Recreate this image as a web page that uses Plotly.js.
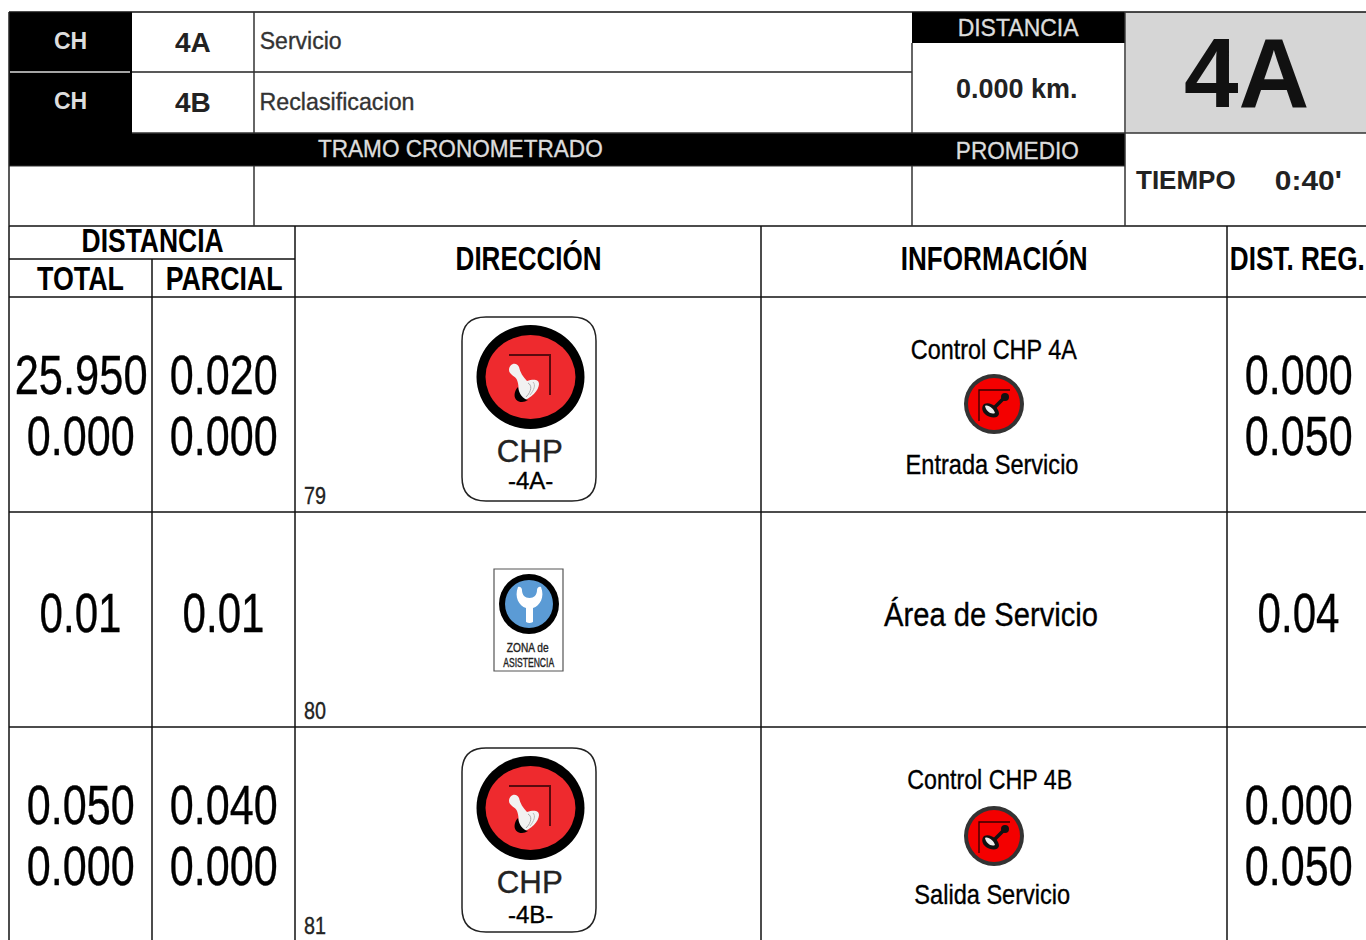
<!DOCTYPE html>
<html><head><meta charset="utf-8">
<script src="https://cdn.plot.ly/plotly-3.0.1.min.js"></script>
<style>html,body{margin:0;padding:0;background:#fff;overflow:hidden}#c{width:1366px;height:940px}</style>
</head><body><div id="c"></div>
<script>
var headerCodes = ["4A","4B"];
var headerNames = ["Servicio","Reclasificacion"];
var totalsRow1 = ["25.950","0.000"];
var parcialRow1 = ["0.020","0.000"];
var regRow1 = ["0.000","0.050"];
var totalsRow2 = ["0.01"];
var parcialRow2 = ["0.01"];
var regRow2 = ["0.04"];
var totalsRow3 = ["0.050","0.000"];
var parcialRow3 = ["0.040","0.000"];
var regRow3 = ["0.000","0.050"];
var rowNumbers = ["79","80","81"];
var timeLabel = "0:40\x27";

var SANS = "Liberation Sans, Arial, sans-serif";
var shapeList = [], noteList = [], fitWidths = [];
function rect(x0,y0,x1,y1,fill,lc,lw){
  shapeList.push({type:"rect",xref:"x",yref:"y",x0:x0,y0:y0,x1:x1,y1:y1,fillcolor:fill||"rgba(0,0,0,0)",line:{color:lc||"rgba(0,0,0,0)",width:lw||0}});
}
function seg(x0,y0,x1,y1,c,w){
  shapeList.push({type:"line",xref:"x",yref:"y",x0:x0,y0:y0,x1:x1,y1:y1,line:{color:c||"#111",width:w||1.5}});
}
function oval(cx,cy,rx,ry,fill){
  shapeList.push({type:"circle",xref:"x",yref:"y",x0:cx-rx,x1:cx+rx,y0:cy-ry,y1:cy+ry,fillcolor:fill,line:{width:0}});
}
function pth(d,fill,lc,lw){
  shapeList.push({type:"path",xref:"x",yref:"y",path:d,fillcolor:fill||"rgba(0,0,0,0)",line:{color:lc||"rgba(0,0,0,0)",width:lw||0}});
}
// w = target width in px: the real text is condensed to it after drawing
function txt(x,y,text,size,opt){
  opt = opt || {};
  fitWidths.push({w:opt.w||0,bold:!!opt.bold,color:opt.color||"#000"});
  noteList.push({xref:"x",yref:"y",x:x,y:y,text:text,showarrow:false,xanchor:"center",yanchor:"middle",align:"center",
    font:{family:SANS,size:size,color:opt.color||"#000",weight:opt.bold?700:400}});
}
function tp(d,cx,cy){
  return d.replace(/(-?[\d.]+),(-?[\d.]+)/g,function(m,a,c){return (cx+Number(a)).toFixed(1)+","+(cy+Number(c)).toFixed(1);});
}

rect(9,12,132,133,"#000");
rect(9,133,1125,166,"#000");
rect(912,12,1125,43,"#000");
rect(1126,12,1366,133,"#d6d6d6");
seg(10,72,130,72,"#ddd",1.5);
seg(9,12,1366,12,"#111",1.5);
seg(132,72,912,72,"#222",1.5);
seg(132,133,1366,133,"#333",1.5);
seg(9,166,1125,166,"#333",1);
seg(9,226,1366,226,"#111",1.5);
seg(9,12,9,226,"#222",1.5);
seg(254,12,254,133,"#333",1.5);
seg(254,166,254,226,"#333",1.5);
seg(912,43,912,133,"#333",1.5);
seg(912,166,912,226,"#333",1.5);
seg(1125,12,1125,226,"#333",1.5);

seg(9,226,9,940,"#111",1.5);
seg(295,226,295,940,"#111",1.5);
seg(152,259,152,940,"#111",1.5);
seg(761,226,761,940,"#111",1.5);
seg(1227,226,1227,940,"#111",1.5);
seg(9,259,295,259,"#111",1.5);
seg(9,297,1366,297,"#111",1.5);
seg(9,512,1366,512,"#111",1.5);
seg(9,727,1366,727,"#111",1.5);

txt(70,41,"CH",23,{color:"#ddd",bold:1});
txt(70,101,"CH",23,{color:"#ddd",bold:1});
txt(193,42.5,headerCodes[0],28,{color:"#222",bold:1});
txt(193,102.5,headerCodes[1],28,{color:"#222",bold:1});
txt(300,40.5,headerNames[0],24,{w:82,color:"#333"});
txt(336.5,101.5,headerNames[1],24,{w:155,color:"#333"});
txt(460,148.5,"TRAMO CRONOMETRADO",24,{w:285,color:"#ddd"});
txt(1018,27.5,"DISTANCIA",24,{w:121,color:"#ddd"});
txt(1017,150.5,"PROMEDIO",24,{w:123,color:"#ddd"});
txt(1017,88.5,"0.000 km.",27,{color:"#222",bold:1});
txt(1246.5,73,"4A",98,{color:"#111",bold:1});
txt(1186,180,"TIEMPO",26,{color:"#222",bold:1});
txt(1308.5,180.5,timeLabel,28,{w:67,color:"#222",bold:1});
txt(152,240,"DISTANCIA",33,{w:142,bold:1});
txt(80.5,278,"TOTAL",33,{w:87,bold:1});
txt(223.5,278,"PARCIAL",33,{w:117,bold:1});
txt(528,258,"DIRECCIÓN",33,{w:146,bold:1});
txt(993.5,258,"INFORMACIÓN",33,{w:187,bold:1});
txt(1297.5,258,"DIST. REG.",33,{w:135,bold:1});

var big = 55, wFive = 108, wSix = 133, wFour = 82;
totalsRow1.forEach(function(t,i){txt(80.5,[374.5,435.5][i],t,big,{w:t.length>5?wSix:wFive});});
parcialRow1.forEach(function(t,i){txt(224,[374.5,435.5][i],t,big,{w:wFive});});
regRow1.forEach(function(t,i){txt(1298.5,[374.5,435.5][i],t,big,{w:wFive});});
txt(80,612.5,totalsRow2[0],big,{w:wFour});
txt(223,612.5,parcialRow2[0],big,{w:wFour});
txt(1298,612.5,regRow2[0],big,{w:wFour});
totalsRow3.forEach(function(t,i){txt(80.5,[805,866][i],t,big,{w:wFive});});
parcialRow3.forEach(function(t,i){txt(224,[805,866][i],t,big,{w:wFive});});
regRow3.forEach(function(t,i){txt(1298.5,[805,866][i],t,big,{w:wFive});});
rowNumbers.forEach(function(t,i){txt(315,[496,711,925.5][i],t,23.5,{w:22,color:"#222"});});

txt(994,350,"Control CHP 4A",27,{w:166});
txt(991.5,465,"Entrada Servicio",27,{w:173});
txt(991,614.5,"Área de Servicio",33,{w:214});
txt(989.5,780,"Control CHP 4B",27,{w:165});
txt(992,895,"Salida Servicio",27,{w:156});

var lever = "M-22,-7 C-22,-13 -15,-16 -12,-10 C-11,-5 -8,0 -4,4 C2,2 8,2 8,7 C8,13 0,22 -9,24 C-13,24 -15,22 -14,18 C-12,14 -12,8 -14,3 C-15,-1 -22,-2 -22,-7 Z";
var shadow = "M-13,10 C-18,15 -18,25 -9,25 C-7,25 -5,24 -3,23 C-8,22 -12,17 -13,10 Z";
function bigSign(cy,label,labelDy){
  var t=cy-60,u=cy+124,a=462,z=596,r=24;
  var d="M"+(a+r)+","+t+" L"+(z-r)+","+t+" Q"+z+","+t+" "+z+","+(t+r)+" L"+z+","+(u-r)+" Q"+z+","+u+" "+(z-r)+","+u+" L"+(a+r)+","+u+" Q"+a+","+u+" "+a+","+(u-r)+" L"+a+","+(t+r)+" Q"+a+","+t+" "+(a+r)+","+t+" Z";
  pth(d,"#fff","#222",1.5);
  oval(530.5,cy,54,52,"#000");
  oval(530.5,cy,45,42,"#ee2a2e");
  pth(tp("M-22,-22 L19,-22 L19,18",531,cy),null,"#5a0a0e",2);
  pth(tp(lever,531,cy),"#f2f2f2");
  pth(tp(shadow,531,cy),"#000");
  pth(tp("M-3,6 C1,8 1,14 -5,20",531,cy),null,"#aaa",1);
  pth(tp("M2,5 C5,8 3,13 -1,18",531,cy),null,"#bbb",1);
  txt(530,cy+74,"CHP",32,{w:66,color:"#222"});
  txt(530,cy+labelDy,label,24,{color:"#000"});
}
bigSign(377,"-4A-",103);
bigSign(808,"-4B-",106);

rect(494,569,563,671,"#fff","#555",1.2);
oval(529,604,30,30,"#000");
oval(529,604,24,24,"#5b9bd5");
pth("M518,587 C514,597 519,606 526,608 L526,622 Q529.5,624 533,622 L533,608 C540,606 545,597 541,587 C539,586 537,588 537,590 C537,595 534,598 529.5,598 C525,598 522,595 522,590 C522,588 520,586 518,587 Z","#fff");
txt(528,648,"ZONA de",12,{w:42,color:"#222"});
txt(528.5,663,"ASISTENCIA",12,{w:51,color:"#222"});

function smallIcon(cy){
  oval(994,cy,30,30,"#333");
  oval(994,cy,26,26,"#f40000");
  pth(tp("M-15,17 L-15,-14 L16,-14",994,cy),null,"#300",1.3);
  seg(1005,cy-7,992,cy+6,"#111",3.5);
  oval(1005,cy-7,4,4,"#111");
  pth(tp("M-10,0 C-4,-3 5,3 5,10 C4,15 -4,14 -8,11 C-12,8 -13,3 -10,0 Z",994,cy),"#111");
  pth(tp("M-9,2 C-6,0 0,5 1,9 C-3,11 -8,7 -9,2 Z",994,cy),"#eee");
}
smallIcon(404);
smallIcon(836);

Plotly.newPlot("c",[{x:[0],y:[0],mode:"markers",marker:{opacity:0},hoverinfo:"skip",showlegend:false}],{
  width:1366,height:940,margin:{l:0,r:0,t:0,b:0},paper_bgcolor:"#fff",plot_bgcolor:"#fff",showlegend:false,
  xaxis:{range:[0,1366],visible:false,fixedrange:true},
  yaxis:{range:[940,0],visible:false,fixedrange:true},
  shapes:shapeList,annotations:noteList
},{displayModeBar:false,staticPlot:true}).then(function(){
  fitWidths.forEach(function(f,i){
    var g=document.querySelector("#c .annotation[data-index=\x22"+i+"\x22]");
    if(!g) return;
    var el=g.querySelector("text");
    if(!el) return;
    if(!f.bold){el.style.stroke=f.color;el.style.strokeWidth="0.35px";}
    if(!f.w) return;
    var r=el.getBoundingClientRect();
    var cx=r.left+r.width/2, k=f.w/r.width;
    g.setAttribute("transform","translate("+cx+" 0) scale("+k+" 1) translate("+(-cx)+" 0)");
  });
});
</script></body></html>
